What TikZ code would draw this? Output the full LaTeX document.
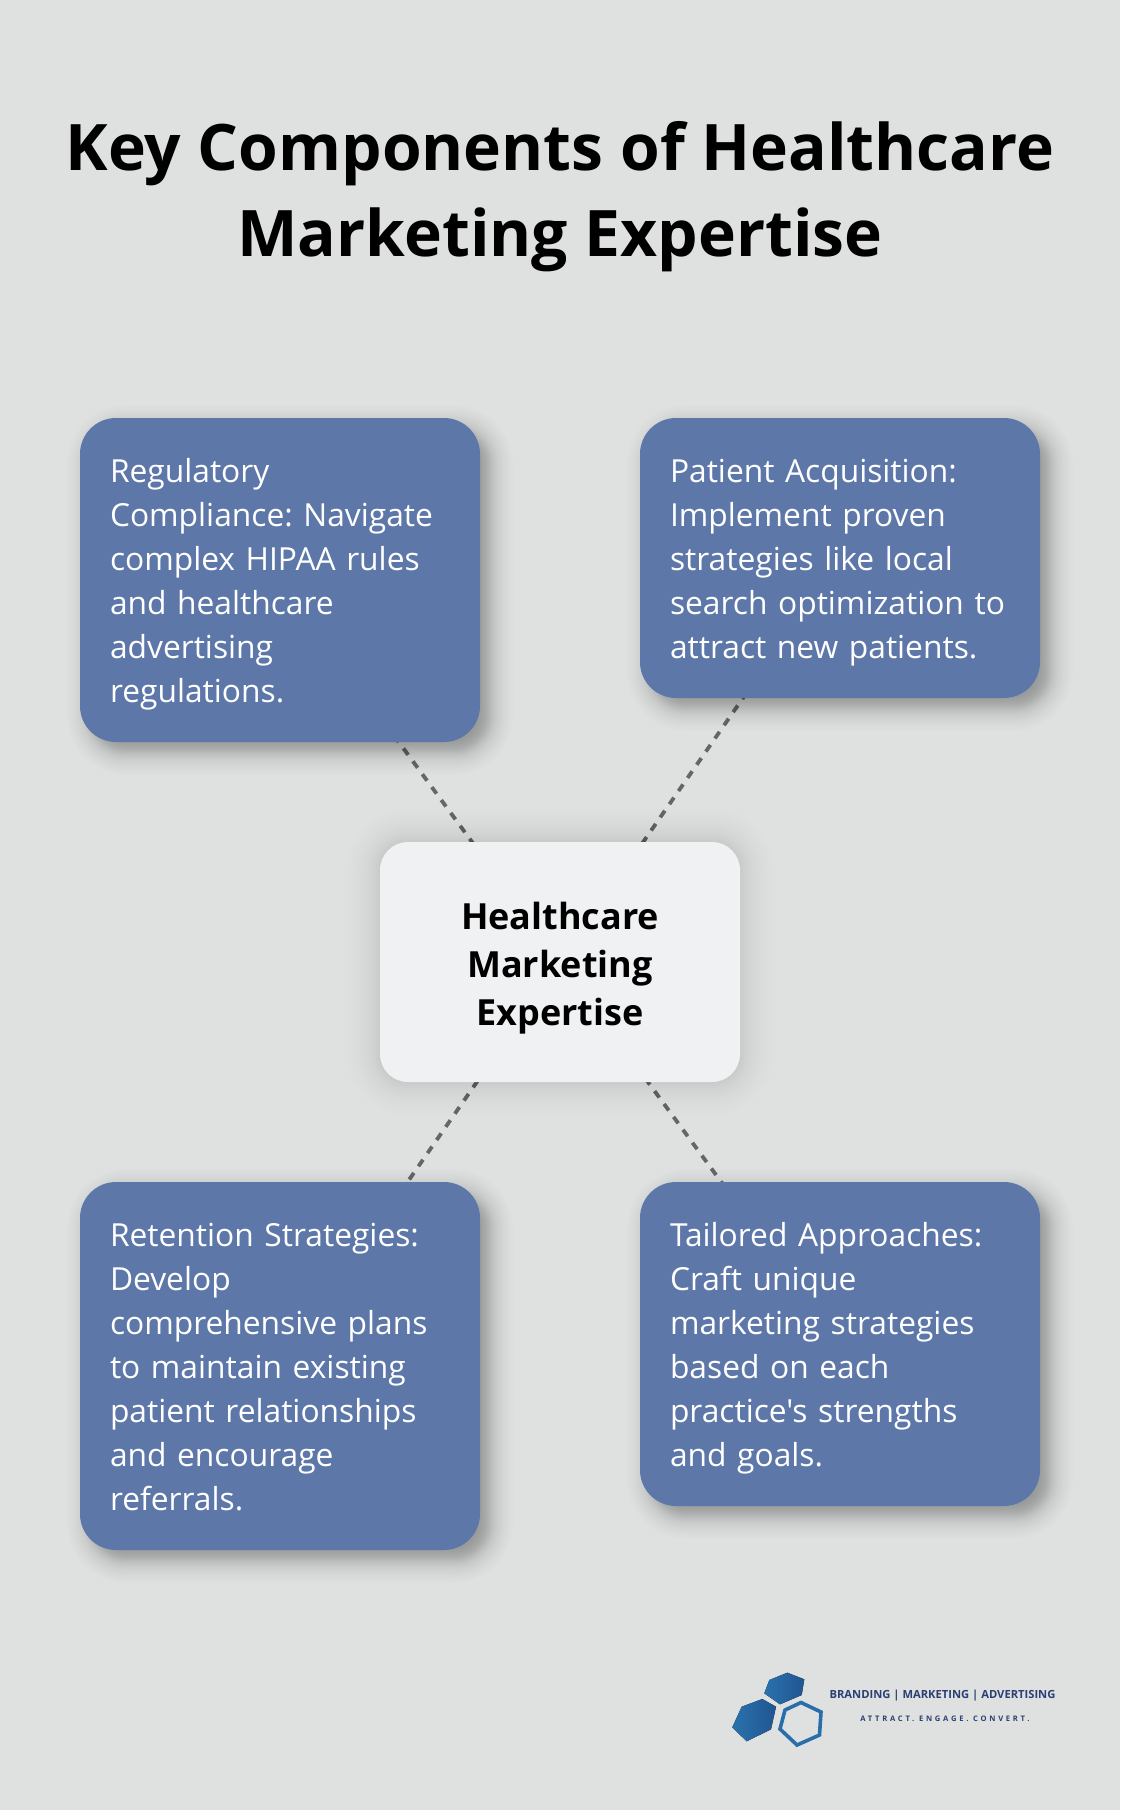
\documentclass[tikz,border=0pt]{standalone}
\usepackage{fontspec}
\setmainfont{Open Sans}
\newfontfamily\bodyfont{Open Sans}
\newfontfamily\tagfont[LetterSpace=36]{Open Sans}
\usetikzlibrary{backgrounds}
\definecolor{bgc}{HTML}{DFE1E1}
\definecolor{bluebox}{HTML}{5D77A9}
\definecolor{paleb}{HTML}{F0F1F3}
\definecolor{linkc}{HTML}{666666}
\definecolor{navy}{HTML}{2B3F73}
\definecolor{hexa}{HTML}{2A72AE}
\definecolor{hexb}{HTML}{205590}
\newcommand{\bodyline}{\vrule width 0pt height 33.6pt depth 10.4pt}
\newcommand{\bodyfirst}{\vrule width 0pt height 35.6pt depth 10.4pt}
\newcommand{\midfirst}{\vrule width 0pt height 40.2pt depth 10pt}
\newcommand{\midline}{\vrule width 0pt height 38pt depth 10pt}
% #1 node, #2 offset, #3 corner radius, #4 max spread, #5 number of steps, #6 layer opacity
\newcommand{\softshadow}[6]{%
  \foreach \k in {0,...,#5}{%
    \pgfmathsetmacro{\tval}{2*\k/#5-1}%
    \pgfmathsetmacro{\spreadv}{#4*(\tval+\tval*\tval*\tval)/2}%
    \pgfmathsetmacro{\rr}{max(2,#3+\spreadv)}%
    \pgfmathsetmacro{\lowv}{#2-\spreadv}%
    \pgfmathsetmacro{\highv}{#2+\spreadv}%
    \fill[black,opacity=#6,rounded corners=\rr pt]
      ([shift={(\lowv,\lowv)}]#1.north west) rectangle ([shift={(\highv,\highv)}]#1.south east);
  }}
\tikzset{
 x=1pt,y=-1pt,
 bluecard/.style={draw=none,fill=bluebox,rounded corners=36pt,anchor=north west,align=left,text=white,
   text width=340pt,inner xsep=30pt,inner ysep=29pt,outer sep=0pt,minimum height=#1,
   font=\fontsize{31.75pt}{44pt}\bodyfont\frenchspacing},
 hubcard/.style={draw=none,fill=paleb,rounded corners=28pt,anchor=center,align=center,text=black,
   text width=360pt,minimum height=240pt,inner xsep=0pt,inner ysep=0pt,outer sep=0pt,
   font=\fontsize{36pt}{48pt}\selectfont\bfseries},
 linkline/.style={draw=linkc,line width=3.8pt,dash pattern=on 8pt off 8pt,dash phase=#1},
 titletext/.style={anchor=base,font=\fontsize{64.15pt}{85pt}\selectfont\bfseries,text=black,inner sep=0pt},
 hexfill/.style={left color=hexa,right color=hexb,draw=none},
}
\begin{document}
\begin{tikzpicture}
\useasboundingbox (0,0) rectangle (1120,1810);
\node[titletext] (t1) at (560,170.5) {Key Components of Healthcare};
\node[titletext] (t2) at (560,256) {Marketing Expertise};
\node[bluecard=324pt] (reg) at (80,418) {\bodyfirst Regulatory\\\bodyline Compliance: Navigate\\\bodyline complex HIPAA rules\\\bodyline and healthcare\\\bodyline advertising\\\bodyline regulations.};
\node[bluecard=280pt] (pat) at (640,418) {\bodyfirst Patient Acquisition:\\\bodyline Implement proven\\\bodyline strategies like local\\\bodyline search optimization to\\\bodyline attract new patients.};
\node[bluecard=368pt] (ret) at (80,1182) {\bodyfirst Retention Strategies:\\\bodyline Develop\\\bodyline comprehensive plans\\\bodyline to maintain existing\\\bodyline patient relationships\\\bodyline and encourage\\\bodyline referrals.};
\node[bluecard=324pt] (tai) at (640,1182) {\bodyfirst Tailored Approaches:\\\bodyline Craft unique\\\bodyline marketing strategies\\\bodyline based on each\\\bodyline practice's strengths\\\bodyline and goals.};
\node[hubcard] (hub) at (560,962) {\midfirst Healthcare\\\midline Marketing\\\midline Expertise};
\begin{scope}[on background layer]
\fill[bgc] (0,0) rectangle (1120,1810);
\draw[linkline=15.2pt] (reg.center) -- (hub.center);
\draw[linkline=12.5pt] (pat.center) -- (hub.center);
\draw[linkline=13pt] (ret.center) -- (hub.center);
\draw[linkline=14.4pt] (tai.center) -- (hub.center);
\softshadow{reg}{10}{36}{23}{40}{0.009}
\softshadow{pat}{10}{36}{23}{40}{0.009}
\softshadow{ret}{10}{36}{23}{40}{0.009}
\softshadow{tai}{10}{36}{23}{40}{0.009}
\softshadow{hub}{0}{28}{34}{44}{0.0055}
\end{scope}
% logo
\fill[hexfill] (787.3,1672.7) -- (804.3,1679.3) -- (801.7,1695) -- (780,1704.3) -- (764.3,1693.3) -- (769.3,1680) -- cycle;
\fill[hexfill] (762.3,1699) -- (776,1706.7) -- (771,1729.3) -- (746.7,1741.3) -- (732.3,1727.3) -- (741.7,1706.7) -- cycle;
\draw[draw=hexa!85!hexb,line width=3.6pt,line join=miter] (801,1702.5) -- (821,1712) -- (819.5,1735) -- (797,1745) -- (780,1729) -- (785,1710) -- cycle;
\node[anchor=center,inner sep=0pt,text=navy,font=\fontsize{11.2pt}{13pt}\selectfont\bfseries] (brand) at (942.5,1696) {BRANDING | MARKETING | ADVERTISING};
\node[anchor=center,inner sep=0pt,text=navy,font=\fontsize{7.6pt}{10pt}\tagfont\bfseries] (motto) at (945,1719) {ATTRACT. ENGAGE. CONVERT.};
\end{tikzpicture}
\end{document}
